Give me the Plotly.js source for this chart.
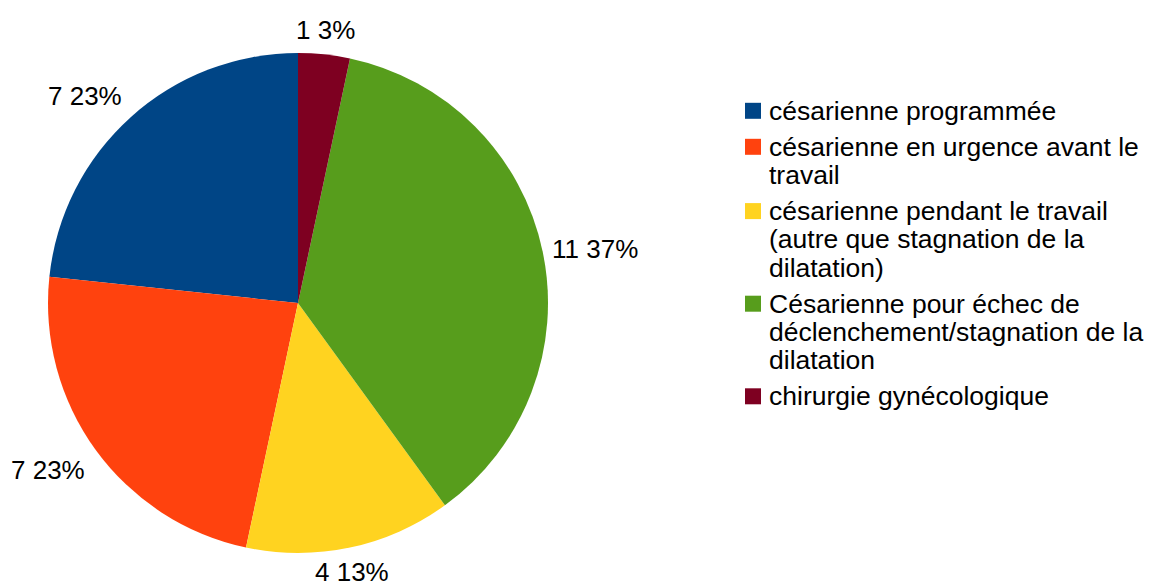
<!DOCTYPE html>
<html><head><meta charset="utf-8">
<script src="https://cdn.plot.ly/plotly-3.0.1.min.js"></script>
<style>html,body{margin:0;padding:0;background:#fff}</style>
</head><body>
<div id="chart" style="width:1149px;height:582px"></div>
<script>
const labels = [
  "césarienne programmée",
  "césarienne en urgence avant le<br>travail",
  "césarienne pendant le travail<br>(autre que stagnation de la<br>dilatation)",
  "Césarienne pour échec de<br>déclenchement/stagnation de la<br>dilatation",
  "chirurgie gynécologique"
];
const values = [7, 7, 4, 11, 1];
const colors = ["#004586", "#ff420e", "#ffd320", "#579d1c", "#7e0021"];

const W = 1149, H = 582;
const FONT = "Liberation Sans, Arial, sans-serif";
const cx = 298, cy = 303, R = 250, RL = 262;
const total = values.reduce((a, b) => a + b, 0);
const annotations = [];
const shapes = [];

// slice value labels, placed around the pie from the data
let cum = 0;
values.forEach((v, i) => {
  const mid = (cum + v / 2) / total * 2 * Math.PI;
  cum += v;
  const s = -Math.sin(mid), c = Math.cos(mid);
  const xp = cx + s * RL, yp = cy - c * RL;
  const xa = s > 0.3 ? "left" : (s < -0.3 ? "right" : "center");
  const ya = c > 0.3 ? "bottom" : (c < -0.3 ? "top" : "middle");
  annotations.push({
    x: xp / W, y: 1 - yp / H, xref: "paper", yref: "paper",
    text: v + " " + Math.round(v / total * 100) + "%",
    showarrow: false, borderpad: 0,
    xanchor: xa, yanchor: ya,
    xshift: xa === "left" ? -3 : 0,
    yshift: ya === "bottom" ? -4 : (ya === "top" ? 3 : 0),
    font: {family: FONT, size: 26, color: "#000"}
  });
});

// legend (square aligned with first line, tight line spacing)
const LX = 745, LS = 16, TX = 768, LINE = 28.3, GAP = 36, LFS = 26.5;
let base = 118.3;
labels.forEach((lab, i) => {
  const lines = lab.split("<br>");
  shapes.push({
    type: "rect", xref: "paper", yref: "paper",
    x0: LX / W, x1: (LX + LS) / W, y0: 1 - (base + 0.5) / H, y1: 1 - (base + 0.5 - LS) / H,
    fillcolor: colors[i], line: {width: 0}
  });
  lines.forEach((ln, j) => {
    const b = base + j * LINE;
    annotations.push({
      x: TX / W, y: 1 - (b - 7.5) / H, xref: "paper", yref: "paper",
      text: ln, showarrow: false, borderpad: 0,
      xanchor: "left", yanchor: "middle",
      font: {family: FONT, size: LFS, color: "#000"}
    });
  });
  base += (lines.length - 1) * LINE + GAP;
});

const trace = {
  type: "pie",
  labels: labels,
  values: values,
  marker: {colors: colors, line: {width: 0}},
  sort: false,
  direction: "counterclockwise",
  rotation: -values[0] / total * 360,
  textinfo: "none",
  hoverinfo: "label+value+percent",
  showlegend: false,
  domain: {x: [(cx - R) / W, (cx + R) / W], y: [(H - cy - R) / H, (H - cy + R) / H]}
};

const layout = {
  width: W, height: H,
  margin: {l: 0, r: 0, t: 0, b: 0},
  paper_bgcolor: "#fff",
  showlegend: false,
  annotations: annotations,
  shapes: shapes
};
Plotly.newPlot("chart", [trace], layout, {displayModeBar: false, staticPlot: true});
</script>
</body></html>
